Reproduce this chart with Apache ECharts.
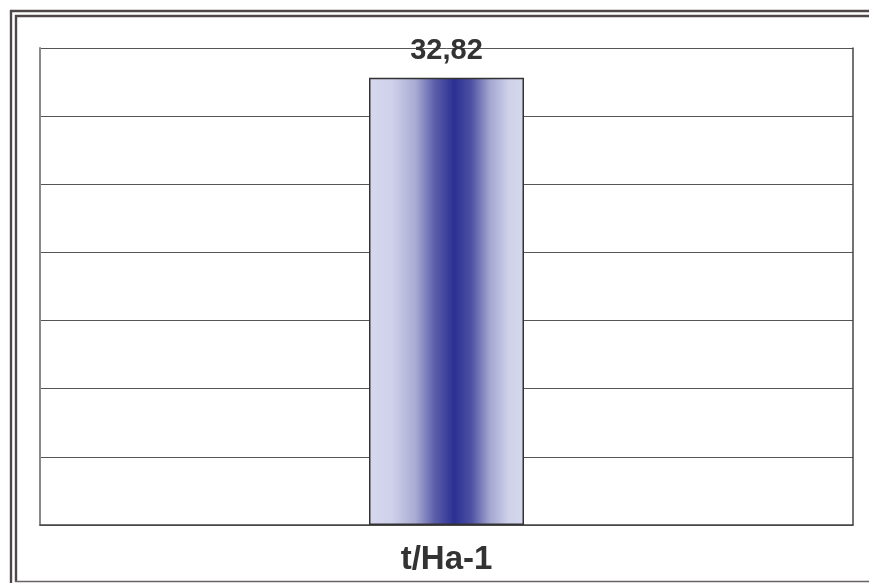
<!DOCTYPE html>
<html>
<head>
<meta charset="utf-8">
<style>
  html, body { margin: 0; padding: 0; background: #fff; }
  #chart { width: 869px; height: 583px; }
</style>
<script src="https://cdn.jsdelivr.net/npm/echarts@6/dist/echarts.min.js"></script>
</head>
<body>
<div id="chart"></div>
<script>
// Yield figures
const categories = ['t/Ha-1'];
const yieldValues = [32.82];
const axisMin = 0;
const axisMax = 35;
const axisStep = 5;

const chart = echarts.init(document.getElementById('chart'), null, { renderer: 'canvas' });

// Horizontal banded blue fill of the bar
const barFill = new echarts.graphic.LinearGradient(0, 0, 1, 0, [
  { offset: 0.00, color: '#d6d8ee' },
  { offset: 0.15, color: '#cfd1ea' },
  { offset: 0.30, color: '#a9abd3' },
  { offset: 0.42, color: '#5d61aa' },
  { offset: 0.55, color: '#2b2f92' },
  { offset: 0.66, color: '#4d51a2' },
  { offset: 0.78, color: '#a3a6d0' },
  { offset: 0.90, color: '#cfd1ea' },
  { offset: 1.00, color: '#d6d8ee' }
]);

const frameColor = '#4f4848';

chart.setOption({
  animation: false,
  backgroundColor: '#ffffff',
  textStyle: { fontFamily: 'Liberation Sans, Arial, sans-serif' },
  grid: { left: 40, top: 48, right: 16, bottom: 58, containLabel: false },
  graphic: [
    // outer double frame (top and left) and bottom rule
    { type: 'line', shape: { x1: 10, y1: 11, x2: 869, y2: 11 }, style: { stroke: frameColor, lineWidth: 2.4 }, silent: true },
    { type: 'line', shape: { x1: 11, y1: 10, x2: 11, y2: 583 }, style: { stroke: frameColor, lineWidth: 2.4 }, silent: true },
    { type: 'line', shape: { x1: 15, y1: 16, x2: 869, y2: 16 }, style: { stroke: frameColor, lineWidth: 2.4 }, silent: true },
    { type: 'line', shape: { x1: 16, y1: 15, x2: 16, y2: 582 }, style: { stroke: frameColor, lineWidth: 2.4 }, silent: true },
    { type: 'line', shape: { x1: 15, y1: 581.5, x2: 869, y2: 581.5 }, style: { stroke: '#6a6464', lineWidth: 1.5 }, silent: true }
  ],
  xAxis: {
    type: 'category',
    data: categories,
    axisTick: { show: false },
    axisLine: { show: true, lineStyle: { color: '#444', width: 1.5 } },
    axisLabel: {
      margin: 18,
      fontSize: 33,
      fontWeight: 'bold',
      color: '#333',
      fontFamily: 'Liberation Sans, Arial, sans-serif'
    }
  },
  yAxis: [
    {
      type: 'value',
      min: axisMin,
      max: axisMax,
      interval: axisStep,
      axisLabel: { show: false },
      axisTick: { show: false },
      axisLine: { show: true, lineStyle: { color: '#8a8a8a', width: 2 } },
      splitLine: { show: true, lineStyle: { color: '#555', width: 1 } }
    },
    {
      type: 'value',
      position: 'right',
      min: axisMin,
      max: axisMax,
      interval: axisStep,
      axisLabel: { show: false },
      axisTick: { show: false },
      axisLine: { show: true, lineStyle: { color: '#444', width: 1.5 } },
      splitLine: { show: false }
    }
  ],
  series: [
    {
      type: 'bar',
      data: yieldValues,
      barWidth: 155,
      itemStyle: {
        color: barFill,
        borderColor: '#333',
        borderWidth: 1.5
      },
      label: {
        show: true,
        position: 'top',
        distance: 12,
        fontSize: 29,
        fontWeight: 'bold',
        color: '#333',
        fontFamily: 'Liberation Sans, Arial, sans-serif',
        formatter: p => p.value.toFixed(2).replace('.', ',')
      }
    }
  ]
});
</script>
</body>
</html>
